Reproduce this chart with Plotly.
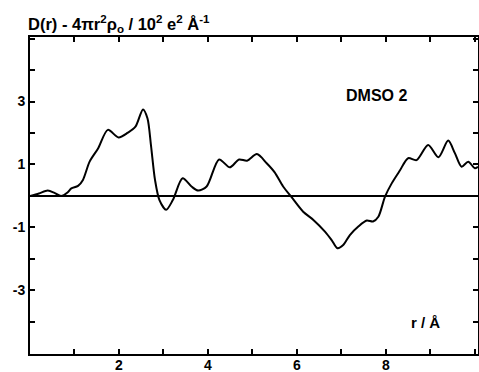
import plotly.graph_objects as go

r_vals = [0.0, 0.2, 0.40, 0.55, 0.70, 0.85, 0.93, 1.08, 1.19, 1.34, 1.53, 1.75, 1.99, 2.20, 2.37, 2.54,
          2.64, 2.72, 2.81, 2.91, 3.06, 3.21, 3.43, 3.63, 3.78, 3.97, 4.25, 4.49, 4.70, 4.88, 5.10,
          5.32, 5.50, 5.69, 5.88, 6.14, 6.37, 6.63, 6.78, 6.91, 7.04, 7.19, 7.38, 7.57, 7.71, 7.83,
          7.98, 8.13, 8.31, 8.50, 8.69, 8.95, 9.18, 9.40, 9.55, 9.70, 9.85, 10.0, 10.07]
d_vals = [0.0, 0.08, 0.17, 0.1, 0.0, 0.12, 0.24, 0.32, 0.51, 1.09, 1.51, 2.10, 1.86, 2.01, 2.2, 2.75,
          2.47, 1.6, 0.51, -0.13, -0.44, -0.13, 0.56, 0.30, 0.17, 0.30, 1.16, 0.91, 1.16, 1.12, 1.33,
          1.04, 0.75, 0.30, -0.04, -0.50, -0.76, -1.13, -1.40, -1.66, -1.56, -1.24, -0.97, -0.78, -0.81, -0.66,
          -0.02, 0.40, 0.80, 1.20, 1.14, 1.62, 1.23, 1.76, 1.36, 0.93, 1.09, 0.88, 0.93]

x_tickvals = list(range(0, 11))
x_ticktext = ["" if v % 2 else str(v) for v in x_tickvals]
x_ticktext[0] = ""
y_tickvals = list(range(-5, 6))
y_ticktext = [str(v) if v in (3, 1, -1, -3) else "" for v in y_tickvals]

FONT = "Liberation Sans"

fig = go.Figure()
fig.add_trace(go.Scatter(x=r_vals, y=d_vals, mode="lines",
                         line=dict(color="black", width=2, shape="spline", smoothing=0.8),
                         hoverinfo="skip", showlegend=False))

axis_common = dict(showline=True, linecolor="black", linewidth=2, mirror="allticks",
                   ticks="inside", ticklen=5, tickwidth=2, tickcolor="black",
                   showgrid=False, automargin=False,
                   tickfont=dict(family=FONT, size=14, color="black", weight="bold"))

fig.update_xaxes(range=[0, 10.07], tickvals=x_tickvals, ticktext=x_ticktext, zeroline=False,
                 ticklabelstandoff=-3, **axis_common)
fig.update_yaxes(range=[-5.02, 5.05], tickvals=y_tickvals, ticktext=y_ticktext,
                 zeroline=True, zerolinecolor="black", zerolinewidth=1.5, **axis_common)

fig.add_annotation(text="D(r) - 4πr<sup>2</sup>ρ<sub>o</sub> / 10<sup>2</sup> e<sup>2</sup> Å<sup>-1</sup>",
                   xref="paper", yref="paper", x=-0.008, y=1.0, xanchor="left", yanchor="bottom",
                   yshift=0, showarrow=False,
                   font=dict(family=FONT, size=16.5, color="black", weight="bold"))
fig.add_annotation(text="DMSO 2", x=7.79, y=3.2, xanchor="center", yanchor="middle",
                   showarrow=False, font=dict(family=FONT, size=16, color="black", weight="bold"))
fig.add_annotation(text="r / Å", x=8.9, y=-4.03, xanchor="center", yanchor="middle",
                   showarrow=False, font=dict(family=FONT, size=15, color="black", weight="bold"))

fig.update_layout(width=479, height=372, margin=dict(l=30, r=1, t=37, b=18),
                  paper_bgcolor="white", plot_bgcolor="white")

fig.write_html("out.html")
